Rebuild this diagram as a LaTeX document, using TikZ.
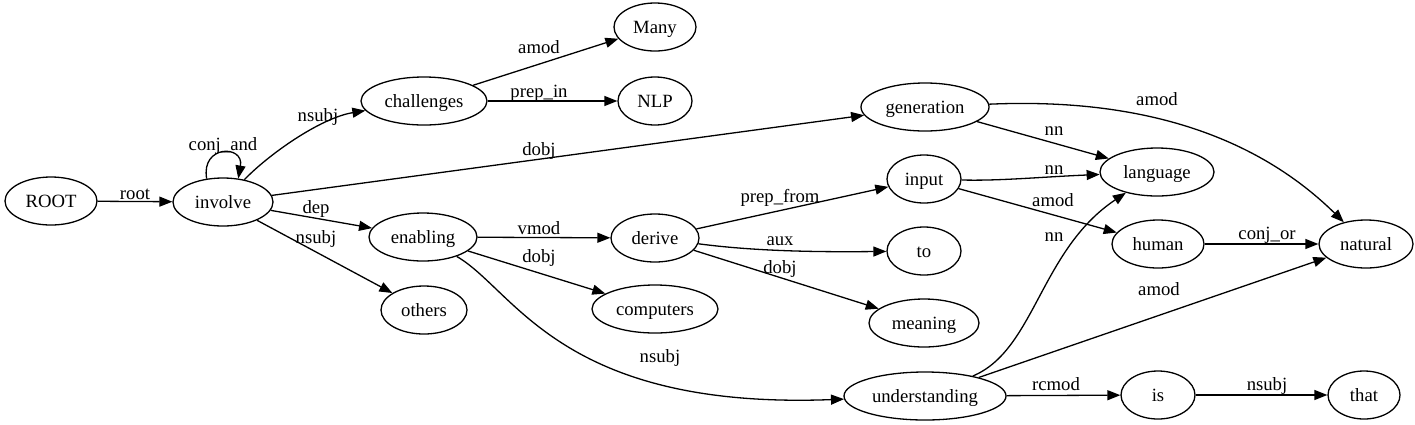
\documentclass[tikz,border=0pt]{standalone}
\usepackage{fontspec}
\setmainfont{Liberation Serif}
\usetikzlibrary{shapes.geometric,arrows.meta}
\begin{document}
\begin{tikzpicture}[x=1pt,y=-1pt,
  nd/.style={draw, ellipse, line width=1.3pt, inner sep=0pt, minimum height=48pt,
             text height=13pt, text depth=1pt, font=\fontsize{18.7}{20}\selectfont},
  e/.style={draw, line width=1.3pt, -{Triangle[length=13pt,width=10pt]}},
  lb/.style={anchor=base, inner sep=0pt, font=\fontsize{18.7}{20}\selectfont}]
\fill[white] (0,0) rectangle (1415,424);
\useasboundingbox (0,0) rectangle (1415,424);
% nodes
\node[nd, minimum width=92pt]  (root)  at (51,201)   {ROOT};
\node[nd, minimum width=100pt] (inv)   at (223,202)  {involve};
\node[nd, minimum width=126pt] (chal)  at (424,101)  {challenges};
\node[nd, minimum width=86pt]  (oth)   at (424,310)  {others};
\node[nd, minimum width=108pt] (enab)  at (423,237)  {enabling};
\node[nd, minimum width=82pt]  (many)  at (655,27)   {Many};
\node[nd, minimum width=74pt]  (nlp)   at (655,101)  {NLP};
\node[nd, minimum width=88pt]  (der)   at (655,238)  {derive};
\node[nd, minimum width=126pt] (comp)  at (655,309)  {computers};
\node[nd, minimum width=128pt] (gen)   at (925,107)  {generation};
\node[nd, minimum width=74pt]  (inp)   at (924,179)  {input};
\node[nd, minimum width=74pt]  (to)    at (924,251)  {to};
\node[nd, minimum width=110pt] (mean)  at (924,323)  {meaning};
\node[nd, minimum width=162pt] (und)   at (925,396)  {understanding};
\node[nd, minimum width=114pt] (lang)  at (1157,172) {language};
\node[nd, minimum width=92pt]  (hum)   at (1158,244) {human};
\node[nd, minimum width=74pt]  (is)    at (1158,395) {is};
\node[nd, minimum width=94pt]  (nat)   at (1366,244) {natural};
\node[nd, minimum width=72pt]  (that)  at (1364,395) {that};
% edges
\draw[e] (root) -- (inv);
\draw[e] (inv.125) .. controls +(-6,-34) and +(6,-34) .. (inv.57);
\draw[e] (inv) .. controls (268,155) and (320,118) .. (chal);
\draw[e] (inv) -- (gen);
\draw[e] (inv) -- (enab);
\draw[e] (inv) -- (oth);
\draw[e] (chal) -- (many);
\draw[e] (chal) -- (nlp);
\draw[e] (enab) -- (der);
\draw[e] (enab) -- (comp);
\draw[e] (enab) .. controls (515,290) and (560,410) .. (und);
\draw[e] (der) -- (inp);
\draw[e] (der) .. controls (760,252) and (830,252) .. (to);
\draw[e] (der) -- (mean);
\draw[e] (gen) -- (lang);
\draw[e] (gen) .. controls (1130,98) and (1250,130) .. (nat);
\draw[e] (inp) .. controls (1000,181) and (1040,177) .. (lang);
\draw[e] (inp) -- (hum);
\draw[e] (und) .. controls (1035,350) and (1040,250) .. (lang);
\draw[e] (und) -- (nat);
\draw[e] (und) -- (is);
\draw[e] (hum) -- (nat);
\draw[e] (is) -- (that);
% labels
\node[lb] (l1)  at (135,199)  {root};
\node[lb] (l2)  at (223,150)  {conj\_and};
\node[lb] (l3)  at (318,121)  {nsubj};
\node[lb] (l4)  at (539,155)  {dobj};
\node[lb] (l5)  at (316,213)  {dep};
\node[lb] (l6)  at (316,243)  {nsubj};
\node[lb] (l7)  at (539,53)   {amod};
\node[lb] (l8)  at (539,97)   {prep\_in};
\node[lb] (l9)  at (539,234)  {vmod};
\node[lb] (l10) at (539,262)  {dobj};
\node[lb] (l11) at (660,362)  {nsubj};
\node[lb] (l12) at (780,202)  {prep\_from};
\node[lb] (l13) at (780,245)  {aux};
\node[lb] (l14) at (780,273)  {dobj};
\node[lb] (l15) at (1054,135) {nn};
\node[lb] (l16) at (1157,105) {amod};
\node[lb] (l17) at (1054,174) {nn};
\node[lb] (l18) at (1053,206) {amod};
\node[lb] (l19) at (1054,241) {nn};
\node[lb] (l20) at (1159,295) {amod};
\node[lb] (l21) at (1056,390) {rcmod};
\node[lb] (l22) at (1267,239) {conj\_or};
\node[lb] (l23) at (1267,390) {nsubj};
\end{tikzpicture}
\end{document}
